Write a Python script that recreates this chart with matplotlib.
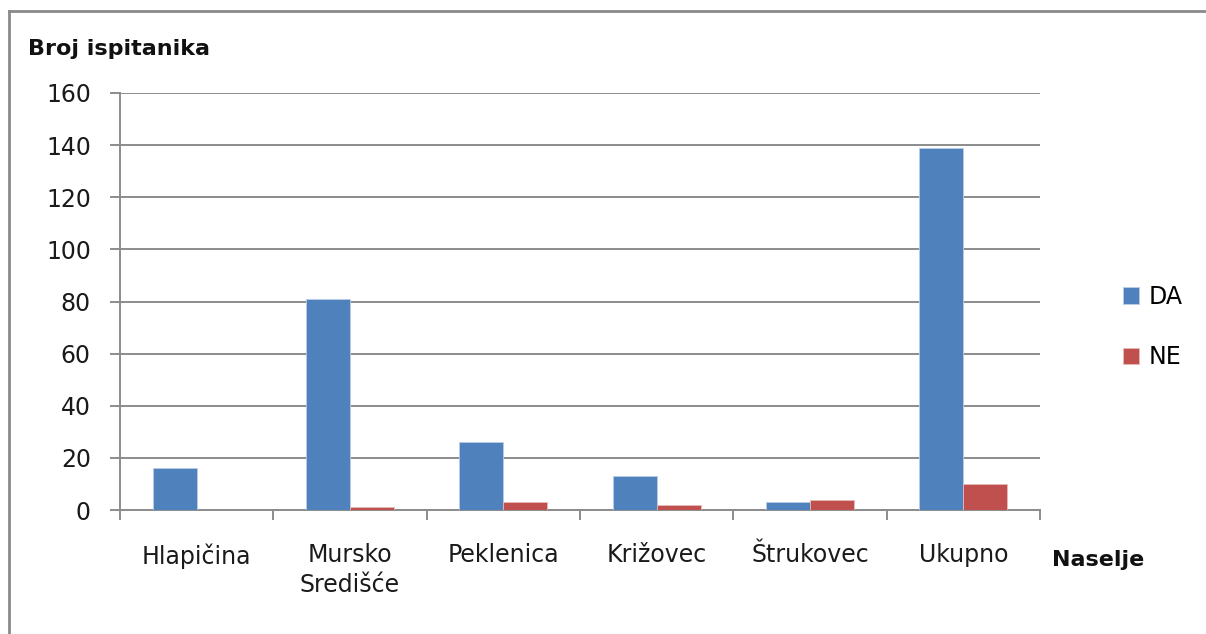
import matplotlib
matplotlib.use("Agg")
import matplotlib.pyplot as plt
import numpy as np
from matplotlib.lines import Line2D

plt.rcParams['font.family'] = ['DejaVu Sans']

categories = ["Hlapičina", "Mursko\nSredišće", "Peklenica", "Križovec", "Štrukovec", "Ukupno"]
da_values = [16, 81, 26, 13, 3, 139]
ne_values = [0, 1, 3, 2, 4, 10]
y_ticks = [0, 20, 40, 60, 80, 100, 120, 140, 160]

W, H = 1206, 634
fig = plt.figure(figsize=(W / 100, H / 100), dpi=100)
fig.patch.set_facecolor("white")

# outer frame (left and top edges visible)
fig.add_artist(Line2D([9 / W, 9 / W], [0, 1 - 11 / H], color="#8a8a8a", lw=2.0,
                      transform=fig.transFigure))
fig.add_artist(Line2D([9 / W, 1], [1 - 11 / H, 1 - 11 / H], color="#8a8a8a", lw=2.0,
                      transform=fig.transFigure))

left, right, top, bottom = 120, 1040, 93, 510
ax = fig.add_axes([left / W, 1 - bottom / H, (right - left) / W, (bottom - top) / H])

grey = "#8c8c8c"
x = np.arange(len(categories))
bw = 0.287
ax.bar(x - bw / 2, da_values, width=bw, color="#4F81BD", edgecolor="#b9cde5",
       linewidth=0.6, label="DA", zorder=3)
ax.bar(x + bw / 2, ne_values, width=bw, color="#C0504D", edgecolor="#e6b9b8",
       linewidth=0.6, label="NE", zorder=3)

ax.set_xlim(-0.5, len(categories) - 0.5)
ax.set_ylim(0, 160)
ax.set_yticks(y_ticks)
ax.yaxis.grid(True, color=grey, lw=1.4, zorder=0)
ax.set_axisbelow(True)

for s in ["top", "right"]:
    ax.spines[s].set_visible(False)
for s in ["left", "bottom"]:
    ax.spines[s].set_color(grey)
    ax.spines[s].set_linewidth(1.4)

fs = 17
ax.tick_params(axis="y", direction="out", length=7, width=1.4, color=grey,
               labelsize=fs, pad=14, labelcolor="#1a1a1a")
ax.set_xticks(x)
ax.set_xticklabels(categories, fontsize=fs, color="#1a1a1a", linespacing=1.3,
                   va="top")
ax.tick_params(axis="x", length=0, pad=24)
ax.set_xticks(np.arange(-0.5, len(categories)), minor=True)
ax.tick_params(axis="x", which="minor", direction="out", length=7, width=1.4, color=grey)

fig.text(28 / W, 1 - 49 / H, "Broj ispitanika", fontsize=16, fontweight="bold",
         va="center", ha="left", color="#111111")
fig.text(1052 / W, 1 - 560 / H, "Naselje", fontsize=16, fontweight="bold",
         va="center", ha="left", color="#111111")

fig.legend(loc="center left", bbox_to_anchor=(1111 / W, 1 - 327 / H),
           frameon=False, fontsize=fs, handlelength=0.7, handleheight=0.7,
           handletextpad=0.4, labelspacing=1.55, borderpad=0)

fig.savefig("out.png", dpi=100, facecolor="white")
